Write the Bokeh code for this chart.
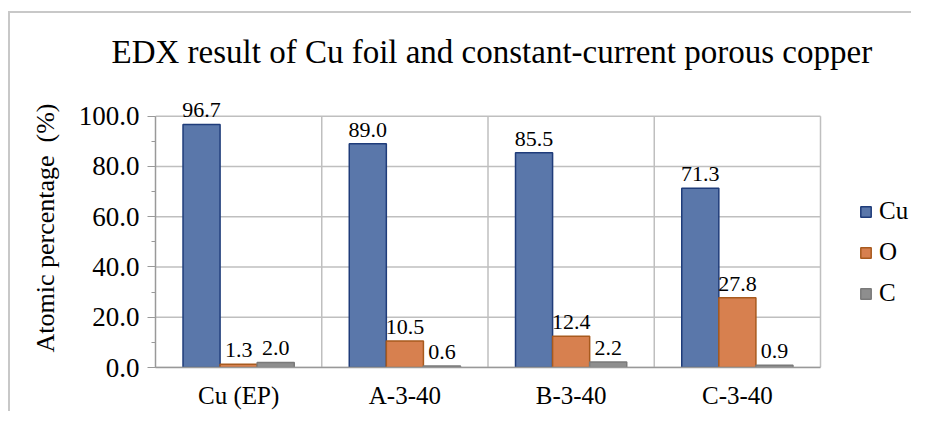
from bokeh.plotting import figure
from bokeh.models import (ColumnDataSource, Range1d, Legend, LegendItem,
                          NumeralTickFormatter, SingleIntervalTicker, FixedTicker)
from bokeh.transform import dodge
from bokeh.core.properties import value
from bokeh.embed import file_html
from bokeh.resources import INLINE

categories = ["Cu (EP)", "A-3-40", "B-3-40", "C-3-40"]
elements = ["Cu", "O", "C"]
cu_vals = [96.7, 89.0, 85.5, 71.3]
o_vals = [1.3, 10.5, 12.4, 27.8]
c_vals = [2.0, 0.6, 2.2, 0.9]
y_min, y_max, y_step = 0, 100, 20

series = [cu_vals, o_vals, c_vals]
fills = ["#5A77AA", "#D7804F", "#8E8E8E"]
lines = ["#1F3C7A", "#A85A1E", "#7A7A7A"]
offsets = [-0.223, 0.0, 0.223]
SERIF = "Liberation Serif"
GRID = "#BFBFBF"

n = len(categories)
centers = [i + 0.5 for i in range(n)]

# layout geometry (pixels)
W, H = 911, 411
F_LEFT, F_RIGHT_DATA, F_TOP_DATA, F_BOTTOM = 155, 820, 116, 370
F_TOP = 88
x_end = n * (W - F_LEFT) / (F_RIGHT_DATA - F_LEFT)
y_end = y_max * (F_BOTTOM - F_TOP) / (F_BOTTOM - F_TOP_DATA)

p = figure(x_range=Range1d(0, x_end), y_range=Range1d(y_min, y_end), width=W, height=H,
           output_backend="svg", toolbar_location=None,
           min_border_left=F_LEFT, min_border_right=0, min_border_top=F_TOP,
           min_border_bottom=H - F_BOTTOM,
           title="EDX result of Cu foil and constant-current porous copper")
p.border_fill_color = None
p.background_fill_color = "white"
p.outline_line_color = None
p.grid.grid_line_color = None
p.styles = {
    "background-color": "white",
    "background-image": "linear-gradient(#C8C8C8,#C8C8C8), linear-gradient(#C8C8C8,#C8C8C8)",
    "background-size": "2px 100%, 100% 2px",
    "background-position": "8px 11px, 8px 11px",
    "background-repeat": "no-repeat",
}

p.title.align = "left"
p.title.offset = -44
p.title.text_font = SERIF
p.title.text_font_size = "33px"
p.title.text_font_style = "normal"
p.title.text_color = "black"
p.title.standoff = 38

# plot-area grid: horizontal lines at each y tick, vertical category separators
hy = list(range(y_min, y_max + 1, y_step))
p.segment(x0=[0] * len(hy), x1=[n] * len(hy), y0=hy, y1=hy, line_color=GRID, line_width=1.5)
vx = list(range(1, n + 1))
p.segment(x0=vx, x1=vx, y0=[y_min] * len(vx), y1=[y_max] * len(vx), line_color=GRID, line_width=1.5)

renderers = []
for vals, fc, lc, off in zip(series, fills, lines, offsets):
    src = ColumnDataSource(dict(x=centers, y=vals, t=[f"{v:.1f}" for v in vals]))
    r = p.vbar(x=dodge("x", off), top="y", width=0.223, source=src,
               fill_color=fc, line_color=lc, line_width=1.5)
    renderers.append(r)
    p.text(x=dodge("x", off), y="y", text="t", source=src,
           text_align="center", text_baseline="alphabetic", y_offset=-14,
           text_font=value(SERIF), text_font_size="22px", text_color="black")

yax = p.yaxis[0]
yax.bounds = (y_min, y_max)
yax.ticker = SingleIntervalTicker(interval=y_step, num_minor_ticks=2)
yax.formatter = NumeralTickFormatter(format="0.0")
yax.major_tick_out = 8
yax.major_tick_in = 0
yax.minor_tick_out = 4
yax.minor_tick_in = 0
yax.major_tick_line_color = "#999999"
yax.minor_tick_line_color = "#999999"
yax.axis_line_color = "#999999"
yax.axis_line_width = 1.5
yax.major_label_standoff = 8
yax.major_label_text_font = SERIF
yax.major_label_text_font_size = "27px"
yax.major_label_text_color = "black"
yax.axis_label = "Atomic percentage \u00a0(%)"
yax.axis_label_text_font = SERIF
yax.axis_label_text_font_size = "26px"
yax.axis_label_text_font_style = "normal"
yax.axis_label_text_color = "black"
yax.axis_label_standoff = 16

xax = p.xaxis[0]
xax.bounds = (0, n)
xax.ticker = FixedTicker(ticks=centers)
xax.major_label_overrides = {c: lab for c, lab in zip(centers, categories)}
xax.major_tick_line_color = None
xax.minor_tick_line_color = None
xax.axis_line_color = "#999999"
xax.axis_line_width = 1.5
xax.major_label_standoff = 8
xax.major_label_text_font = SERIF
xax.major_label_text_font_size = "25px"
xax.major_label_text_color = "black"

legend = Legend(items=[LegendItem(label=e, renderers=[r]) for e, r in zip(elements, renderers)],
                location=(704, 60), orientation="vertical")
legend.border_line_color = None
legend.background_fill_alpha = 0
legend.margin = 0
legend.padding = 0
legend.glyph_width = 13
legend.glyph_height = 13
legend.label_standoff = 7
legend.label_height = 25
legend.spacing = 13
legend.label_text_font = SERIF
legend.label_text_font_size = "25px"
legend.label_text_color = "black"
p.add_layout(legend, "center")

open("out.html", "w").write(file_html(p, INLINE))
